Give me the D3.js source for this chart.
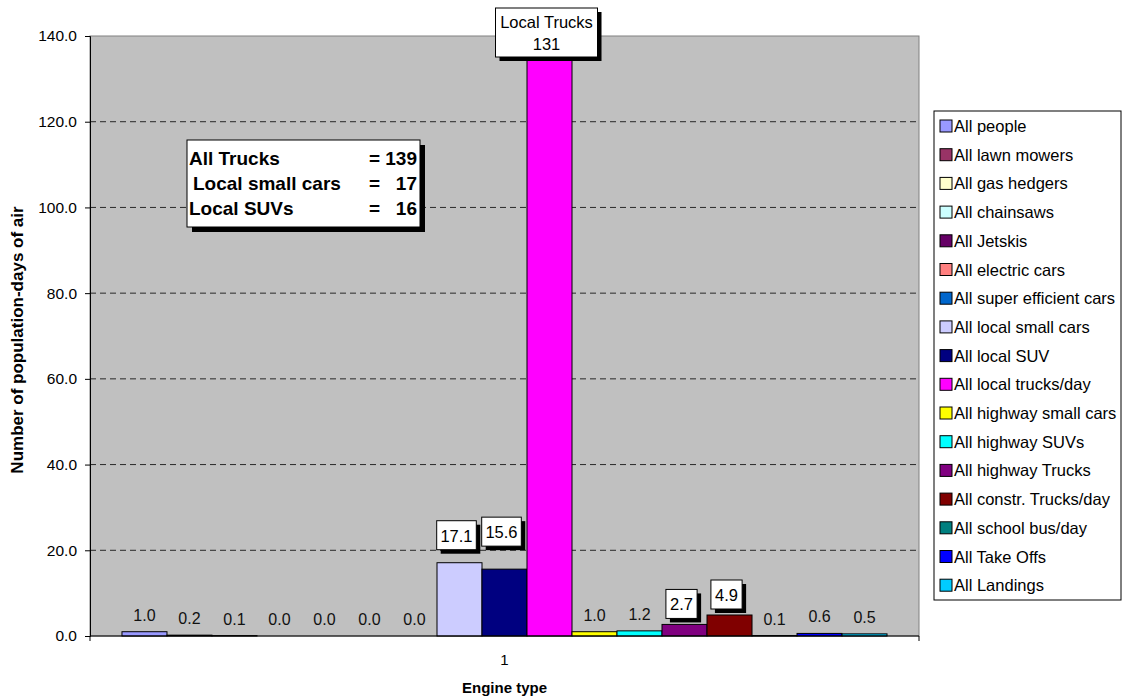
<html lang="en">
<head>
<meta charset="UTF-8">
<title>Population-days of air by engine type</title>
<style>
    body { margin: 0; background: #fff; }
    svg text { font-family: "Liberation Sans", Arial, sans-serif; }
</style>
</head>
<body>
<svg id="chart" width="1125" height="700"></svg>
<script src="https://d3js.org/d3.v7.min.js"></script>
<script>
    // data
    const categories = ["1"];
    const seriesNames = ["All people", "All lawn mowers", "All gas hedgers", "All chainsaws", "All Jetskis",
        "All electric cars", "All super efficient cars", "All local small cars", "All local SUV",
        "All local trucks/day", "All highway small cars", "All highway SUVs", "All highway Trucks",
        "All constr. Trucks/day", "All school bus/day", "All Take Offs", "All Landings"];
    const seriesValues = [1.0, 0.2, 0.1, 0.0, 0.0, 0.0, 0.0, 17.1, 15.6, 135, 1.0, 1.2, 2.7, 4.9, 0.1, 0.6, 0.5];
    const seriesColors = ["#9999FF", "#993366", "#FFFFCC", "#CCFFFF", "#660066", "#FF8080", "#0066CC", "#CCCCFF",
        "#000080", "#FF00FF", "#FFFF00", "#00FFFF", "#800080", "#800000", "#008080", "#0000FF", "#00CCFF"];
    const boxedSeries = ["All local small cars", "All local SUV", "All highway Trucks", "All constr. Trucks/day"];
    const topLabel = ["Local Trucks", "131"];
    const yTicks = [0, 20, 40, 60, 80, 100, 120, 140];
    const noteLines = [["All Trucks", "= 139"], ["Local small cars", "=   17"], ["Local SUVs", "=   16"]];

    const svg = d3.select("#chart");
    const plot = { left: 90, top: 36, width: 829, height: 600 };
    const g = svg.append("g").attr("transform", `translate(${plot.left},${plot.top})`);

    const y = d3.scaleLinear().domain([0, 140]).range([plot.height, 0]);
    const x0 = d3.scaleBand().domain(categories).range([0, plot.width]).paddingInner(0).paddingOuter(0.0418);
    const x1 = d3.scaleBand().domain(seriesNames).range([0, x0.bandwidth()]);
    const fmt = d3.format(".1f");

    // plot background
    g.append("rect")
        .attr("width", plot.width).attr("height", plot.height)
        .attr("fill", "#C0C0C0").attr("stroke", "#808080").attr("stroke-width", 1);

    // dashed grid lines
    g.selectAll(".grid").data(yTicks.filter(t => t > 0 && t < 140))
        .enter().append("line")
        .attr("x1", 0).attr("x2", plot.width)
        .attr("y1", d => y(d)).attr("y2", d => y(d))
        .attr("stroke", "#000").attr("stroke-dasharray", "6,4").attr("stroke-width", 0.8);

    // y axis
    const yAxis = g.append("g")
        .call(d3.axisLeft(y).tickValues(yTicks).tickFormat(fmt).tickSize(5).tickPadding(8));
    yAxis.select(".domain").attr("stroke", "#000");
    yAxis.selectAll("text").attr("font-size", 15.5).attr("fill", "#000");

    // bars
    const catG = g.append("g").attr("transform", `translate(${x0("1")},0)`);
    const maxV = y.domain()[1];
    catG.selectAll("rect.bar").data(seriesNames)
        .enter().append("rect")
        .attr("class", "bar")
        .attr("x", d => x1(d))
        .attr("width", x1.bandwidth())
        .attr("y", (d, i) => y(Math.min(seriesValues[i], maxV)))
        .attr("height", (d, i) => plot.height - y(Math.min(seriesValues[i], maxV)))
        .attr("fill", (d, i) => seriesColors[i])
        .attr("stroke", "#000").attr("stroke-width", 1);

    // x axis
    const xAxis = g.append("g").attr("transform", `translate(0,${plot.height})`);
    xAxis.append("line").attr("x1", 0).attr("x2", plot.width).attr("stroke", "#000");
    xAxis.selectAll(".xt").data([0, plot.width]).enter().append("line")
        .attr("x1", d => d).attr("x2", d => d).attr("y1", 0).attr("y2", 5).attr("stroke", "#000");
    xAxis.selectAll(".xl").data(categories).enter().append("text")
        .attr("x", d => x0(d) + x0.bandwidth() / 2)
        .attr("y", 29).attr("text-anchor", "middle").attr("font-size", 15).text(d => d);

    // value labels
    const labelGap = { "All local small cars": 13, "All local SUV": 23 };
    seriesNames.forEach((name, i) => {
        const v = seriesValues[i];
        const cx = x0("1") + x1(name) + x1.bandwidth() / 2;
        if (name === "All local trucks/day") {
            const bw = 102, bh = 49, bx = cx - 54, by = 8 - plot.top;
            g.append("rect").attr("x", bx + 4).attr("y", by + 4).attr("width", bw).attr("height", bh).attr("fill", "#000");
            g.append("rect").attr("x", bx).attr("y", by).attr("width", bw).attr("height", bh)
                .attr("fill", "#fff").attr("stroke", "#000");
            topLabel.forEach((t, k) => g.append("text")
                .attr("x", bx + bw / 2).attr("y", by + 20 + k * 22)
                .attr("text-anchor", "middle").attr("font-size", 16.5).text(t));
        } else if (boxedSeries.includes(name)) {
            const t = fmt(v);
            const bw = t.length * 8.4 + 6, bh = 29;
            const gap = labelGap[name] || 6;
            const bx = cx - 3 - bw / 2, by = y(v) - gap - bh;
            g.append("rect").attr("x", bx + 4).attr("y", by + 4).attr("width", bw).attr("height", bh).attr("fill", "#000");
            g.append("rect").attr("x", bx).attr("y", by).attr("width", bw).attr("height", bh)
                .attr("fill", "#fff").attr("stroke", "#000");
            g.append("text").attr("x", bx + bw / 2).attr("y", by + 21)
                .attr("text-anchor", "middle").attr("font-size", 16.5).text(t);
        } else {
            g.append("text").attr("x", cx).attr("y", y(v) - 11)
                .attr("text-anchor", "middle").attr("font-size", 16).attr("fill", "#111").text(fmt(v));
        }
    });

    // note box
    const note = svg.append("g").attr("transform", "translate(187,140)");
    note.append("rect").attr("x", 5).attr("y", 5).attr("width", 233).attr("height", 87).attr("fill", "#000");
    note.append("rect").attr("width", 233).attr("height", 87).attr("fill", "#fff").attr("stroke", "#000");
    noteLines.forEach((ln, k) => {
        note.append("text").attr("x", k === 1 ? 6 : 2).attr("y", 25 + k * 25)
            .attr("font-size", 19).attr("font-weight", "bold").text(ln[0]);
        note.append("text").attr("x", 230).attr("y", 25 + k * 25).attr("text-anchor", "end")
            .attr("font-size", 19).attr("font-weight", "bold")
            .style("white-space", "pre").text(ln[1]);
    });

    // legend
    const legend = svg.append("g").attr("transform", "translate(934,111)");
    legend.append("rect").attr("width", 187).attr("height", 489)
        .attr("fill", "#fff").attr("stroke", "#000");
    const items = legend.selectAll(".item").data(seriesNames).enter().append("g")
        .attr("transform", (d, i) => `translate(6,${15 + i * 28.7})`);
    items.append("rect").attr("x", 0).attr("y", -6).attr("width", 12).attr("height", 12)
        .attr("fill", (d, i) => seriesColors[i]).attr("stroke", "#000");
    items.append("text").attr("x", 14).attr("y", 6).attr("font-size", 16.5).text(d => d);

    // axis titles
    svg.append("text").attr("x", plot.left + plot.width / 2).attr("y", 693)
        .attr("text-anchor", "middle").attr("font-size", 15).attr("font-weight", "bold").text("Engine type");
    svg.append("text").attr("transform", "translate(23,340) rotate(-90)")
        .attr("text-anchor", "middle").attr("font-size", 17).attr("font-weight", "bold")
        .text("Number of population-days of air");
</script>
</body>
</html>
